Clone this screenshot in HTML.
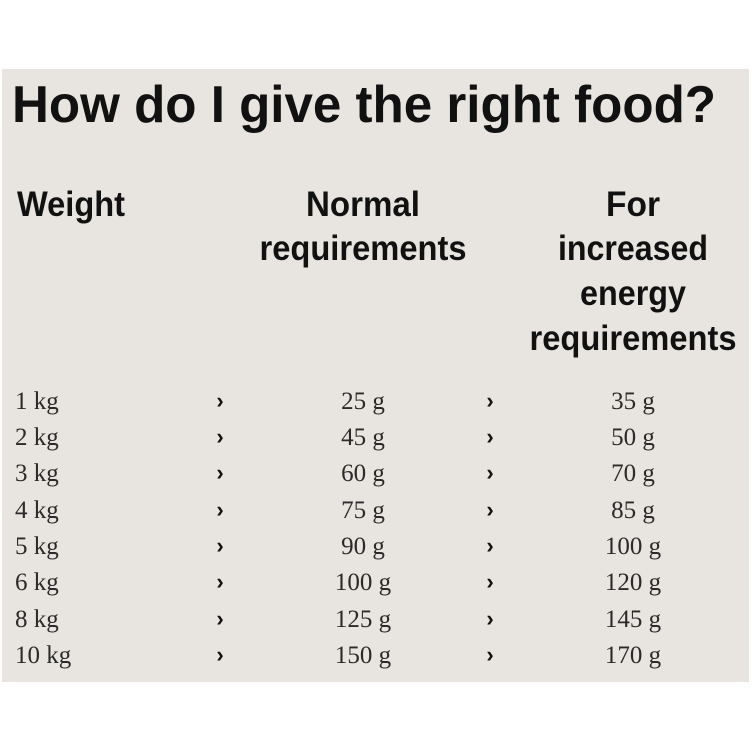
<!DOCTYPE html>
<html><head><meta charset="utf-8"><style>
html,body{margin:0;padding:0;background:#fff}
svg{display:block}
.h{font-family:"Liberation Sans",sans-serif;font-weight:bold;fill:#111}
.r{font-family:"Liberation Serif",serif;font-size:25px;fill:#2a2a2a}
.a{font-family:"Liberation Sans",sans-serif;font-weight:bold;font-size:22px;fill:#111}
</style></head><body>
<svg width="752" height="752" viewBox="0 0 752 752">
<rect x="2" y="69" width="747" height="613" fill="#e8e5e0"/>
<text class="h" x="12" y="122" font-size="52" textLength="704" lengthAdjust="spacingAndGlyphs">How do I give the right food?</text>
<text class="h" x="17" y="216" font-size="35" textLength="108" lengthAdjust="spacingAndGlyphs">Weight</text>
<text class="h" x="363" y="216" font-size="35" text-anchor="middle" textLength="114" lengthAdjust="spacingAndGlyphs">Normal</text>
<text class="h" x="363" y="260" font-size="35" text-anchor="middle" textLength="207" lengthAdjust="spacingAndGlyphs">requirements</text>
<text class="h" x="633" y="216" font-size="35" text-anchor="middle" textLength="54" lengthAdjust="spacingAndGlyphs">For</text>
<text class="h" x="633" y="260" font-size="35" text-anchor="middle" textLength="150" lengthAdjust="spacingAndGlyphs">increased</text>
<text class="h" x="633" y="305" font-size="35" text-anchor="middle" textLength="106" lengthAdjust="spacingAndGlyphs">energy</text>
<text class="h" x="633" y="350" font-size="35" text-anchor="middle" textLength="207" lengthAdjust="spacingAndGlyphs">requirements</text>
<g class="r">
<text x="15" y="409">1 kg</text><text x="15" y="445">2 kg</text><text x="15" y="481">3 kg</text><text x="15" y="518">4 kg</text><text x="15" y="554">5 kg</text><text x="15" y="590">6 kg</text><text x="15" y="627">8 kg</text><text x="15" y="663">10 kg</text>
</g>
<g class="r" text-anchor="middle">
<text x="363" y="409">25 g</text><text x="363" y="445">45 g</text><text x="363" y="481">60 g</text><text x="363" y="518">75 g</text><text x="363" y="554">90 g</text><text x="363" y="590">100 g</text><text x="363" y="627">125 g</text><text x="363" y="663">150 g</text>
<text x="633" y="409">35 g</text><text x="633" y="445">50 g</text><text x="633" y="481">70 g</text><text x="633" y="518">85 g</text><text x="633" y="554">100 g</text><text x="633" y="590">120 g</text><text x="633" y="627">145 g</text><text x="633" y="663">170 g</text>
</g>
<g class="a" text-anchor="middle">
<text x="220" y="408">›</text><text x="220" y="444">›</text><text x="220" y="480">›</text><text x="220" y="517">›</text><text x="220" y="553">›</text><text x="220" y="589">›</text><text x="220" y="626">›</text><text x="220" y="662">›</text>
<text x="490" y="408">›</text><text x="490" y="444">›</text><text x="490" y="480">›</text><text x="490" y="517">›</text><text x="490" y="553">›</text><text x="490" y="589">›</text><text x="490" y="626">›</text><text x="490" y="662">›</text>
</g>
</svg>
</body></html>
